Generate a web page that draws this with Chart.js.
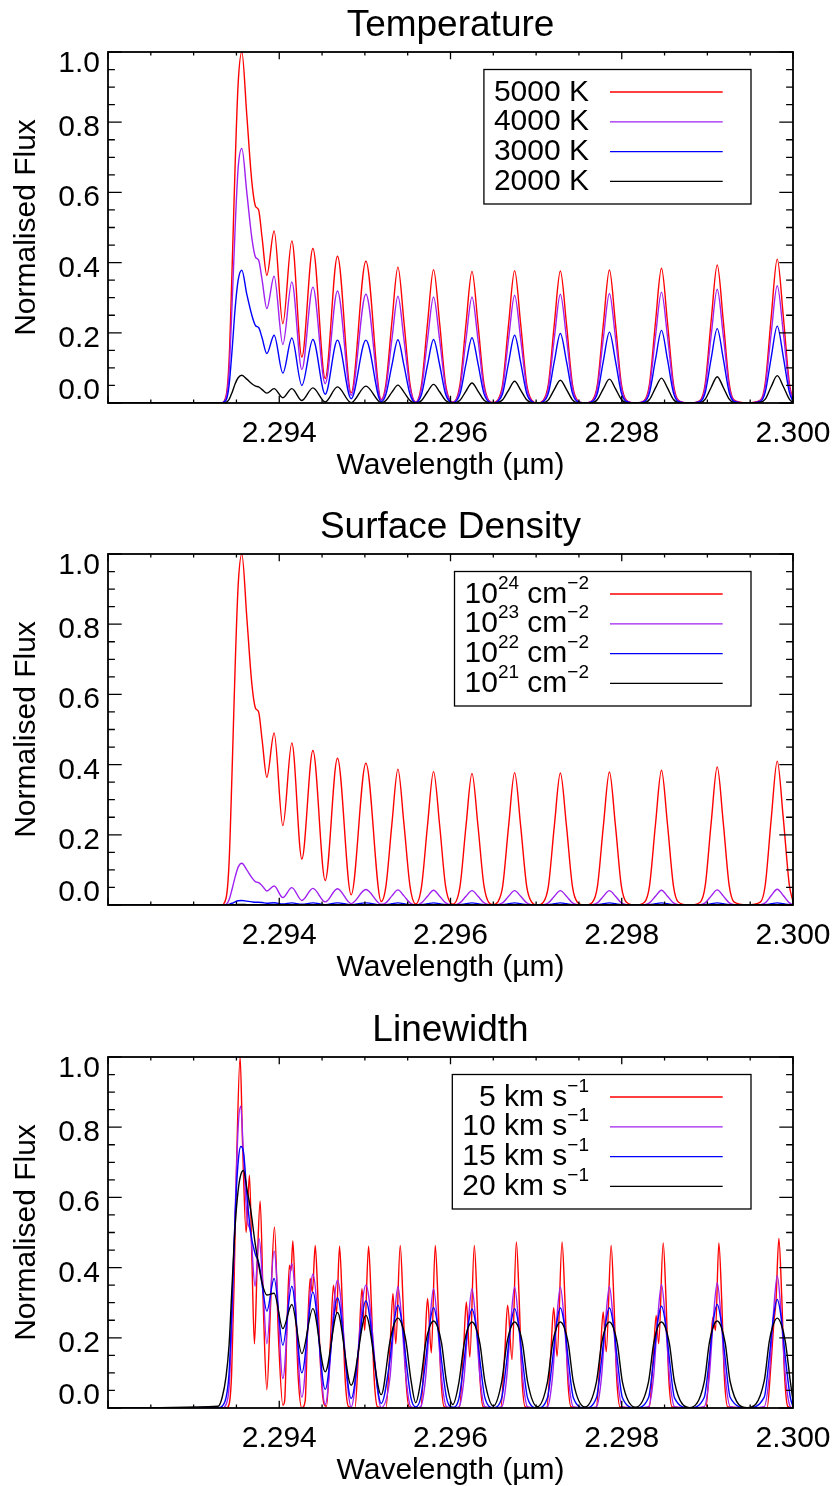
<!DOCTYPE html>
<html>
<head>
<meta charset="utf-8">
<title>CO bandhead models</title>
<script src="https://cdn.jsdelivr.net/npm/chart.js@4.4.1/dist/chart.umd.min.js"></script>
<style>
  html, body { margin: 0; padding: 0; background: #ffffff; }
  #wrap { position: relative; width: 835px; height: 1486px; overflow: hidden; background: #fff; }
  canvas { position: absolute; left: 0; }
</style>
</head>
<body>
<div id="wrap">
  <canvas id="c1" width="835" height="481" style="top:0px"></canvas>
  <canvas id="c2" width="835" height="481" style="top:502px"></canvas>
  <canvas id="c3" width="835" height="481" style="top:1005px"></canvas>
</div>
<script>
// ---------------- DATA ----------------
const panelTitles = ['Temperature', 'Surface Density', 'Linewidth'];
const xAxisTitle = 'Wavelength (\u00b5m)';
const yAxisTitle = 'Normalised Flux';
const xTickValues = [2.294, 2.296, 2.298, 2.300];
const xTickLabels = ['2.294', '2.296', '2.298', '2.300'];
const yTickValues = [0.0, 0.2, 0.4, 0.6, 0.8, 1.0];
const yTickLabels = ['0.0', '0.2', '0.4', '0.6', '0.8', '1.0'];

const legend_T = ['5000 K', '4000 K', '3000 K', '2000 K'];
const legend_N = ['10^{24} cm^{\u22122}', '10^{23} cm^{\u22122}', '10^{22} cm^{\u22122}', '10^{21} cm^{\u22122}'];
const legend_V = ['5 km s^{\u22121}', '10 km s^{\u22121}', '15 km s^{\u22121}', '20 km s^{\u22121}'];
const seriesColors = ['#ff0000', '#a020f0', '#0000ff', '#000000'];

// Wavelength samples (um) for panels 1 and 2
const wave_T = [
 2.292000, 2.293321, 2.293379, 2.293414, 2.293449, 2.293485, 2.293520, 2.293563, 2.293621, 2.293680,
 2.293724, 2.293759, 2.293800, 2.293855, 2.293940, 2.294042, 2.294147, 2.294264, 2.294393, 2.294537,
 2.294680, 2.294840, 2.295012, 2.295191,
 2.295246, 2.295316, 2.295386, 2.295456, 2.295527, 2.295594,
 2.295662, 2.295732, 2.295802, 2.295873, 2.295943, 2.296027,
 2.296111, 2.296181, 2.296251, 2.296321, 2.296392, 2.296500,
 2.296551, 2.296609, 2.296679, 2.296749, 2.296819, 2.296890, 2.296948, 2.297015,
 2.297085, 2.297143, 2.297213, 2.297283, 2.297354, 2.297424, 2.297482, 2.297570,
 2.297658, 2.297716, 2.297786, 2.297856, 2.297926, 2.297996, 2.298055, 2.298160,
 2.298265, 2.298324, 2.298394, 2.298464, 2.298534, 2.298604, 2.298663, 2.298791,
 2.298916, 2.298975, 2.299045, 2.299115, 2.299185, 2.299255, 2.299314, 2.299466,
 2.299618, 2.299676, 2.299746, 2.299816, 2.299887, 2.299957, 2.300000];

const flux_T5000 = [
 0, 0, 0.02, 0.12, 0.38, 0.68, 0.91, 1.0, 0.82, 0.63,
 0.56, 0.55, 0.47, 0.364, 0.49, 0.226, 0.462, 0.131, 0.44, 0.07,
 0.418, 0.029, 0.404, 0.01,
 0.054, 0.232, 0.387, 0.232, 0.054, 0.003,
 0.053, 0.228, 0.38, 0.228, 0.053, 0.002,
 0.053, 0.225, 0.375, 0.225, 0.053, 0.001,
 0.008, 0.053, 0.226, 0.377, 0.226, 0.053, 0.008, 0,
 0.008, 0.053, 0.226, 0.376, 0.226, 0.053, 0.008, 0,
 0.008, 0.053, 0.227, 0.379, 0.227, 0.053, 0.008, 0,
 0.008, 0.054, 0.23, 0.384, 0.23, 0.054, 0.008, 0,
 0.008, 0.055, 0.236, 0.393, 0.236, 0.055, 0.008, 0,
 0.008, 0.057, 0.246, 0.41, 0.246, 0.057, 0.01];

const flux_T4000 = [
 0, 0, 0.015, 0.09, 0.28, 0.5, 0.67, 0.725, 0.6, 0.47,
 0.415, 0.407, 0.35, 0.269, 0.361, 0.167, 0.345, 0.095, 0.33, 0.055,
 0.319, 0.022, 0.31, 0.008,
 0.043, 0.182, 0.304, 0.182, 0.043, 0.002,
 0.042, 0.181, 0.302, 0.181, 0.042, 0.001,
 0.042, 0.181, 0.302, 0.181, 0.042, 0.001,
 0.006, 0.043, 0.184, 0.307, 0.184, 0.043, 0.006, 0,
 0.006, 0.043, 0.186, 0.31, 0.186, 0.043, 0.006, 0,
 0.006, 0.044, 0.187, 0.312, 0.187, 0.044, 0.006, 0,
 0.006, 0.044, 0.19, 0.316, 0.19, 0.044, 0.006, 0,
 0.006, 0.045, 0.194, 0.324, 0.194, 0.045, 0.006, 0,
 0.007, 0.047, 0.2, 0.334, 0.2, 0.047, 0.007];

const flux_T3000 = [
 0, 0, 0.008, 0.05, 0.15, 0.27, 0.35, 0.378, 0.31, 0.25,
 0.22, 0.215, 0.185, 0.141, 0.193, 0.085, 0.185, 0.05, 0.181, 0.025,
 0.179, 0.012, 0.179, 0.004,
 0.025, 0.108, 0.18, 0.108, 0.025, 0.001,
 0.025, 0.109, 0.181, 0.109, 0.025, 0.001,
 0.026, 0.112, 0.186, 0.112, 0.026, 0,
 0.004, 0.027, 0.116, 0.193, 0.116, 0.027, 0.004, 0,
 0.004, 0.028, 0.119, 0.198, 0.119, 0.028, 0.004, 0,
 0.004, 0.028, 0.121, 0.202, 0.121, 0.028, 0.004, 0,
 0.004, 0.029, 0.124, 0.207, 0.124, 0.029, 0.004, 0,
 0.004, 0.03, 0.127, 0.212, 0.127, 0.03, 0.004, 0,
 0.004, 0.031, 0.131, 0.219, 0.131, 0.031, 0.004];

const flux_T2000 = [
 0, 0, 0.002, 0.01, 0.03, 0.055, 0.072, 0.079, 0.068, 0.055,
 0.048, 0.046, 0.038, 0.028, 0.041, 0.015, 0.041, 0.007, 0.043, 0.003,
 0.046, 0.001, 0.048, 0.001,
 0.007, 0.031, 0.051, 0.031, 0.007, 0,
 0.007, 0.032, 0.053, 0.032, 0.007, 0,
 0.008, 0.034, 0.057, 0.034, 0.008, 0,
 0.001, 0.009, 0.037, 0.062, 0.037, 0.009, 0.001, 0,
 0.001, 0.009, 0.039, 0.065, 0.039, 0.009, 0.001, 0,
 0.001, 0.01, 0.041, 0.068, 0.041, 0.01, 0.001, 0,
 0.001, 0.01, 0.043, 0.071, 0.043, 0.01, 0.001, 0,
 0.001, 0.011, 0.045, 0.075, 0.045, 0.011, 0.001, 0,
 0.002, 0.011, 0.047, 0.078, 0.047, 0.011, 0.001];

// Surface density panel (same wavelength samples); the 1e24 curve matches the 5000 K curve
const flux_N24 = [
 0, 0, 0.02, 0.12, 0.38, 0.68, 0.91, 1.0, 0.82, 0.63,
 0.56, 0.55, 0.47, 0.364, 0.49, 0.226, 0.462, 0.131, 0.44, 0.07,
 0.418, 0.029, 0.404, 0.01,
 0.054, 0.232, 0.387, 0.232, 0.054, 0.003,
 0.053, 0.228, 0.38, 0.228, 0.053, 0.002,
 0.053, 0.225, 0.375, 0.225, 0.053, 0.001,
 0.008, 0.053, 0.226, 0.377, 0.226, 0.053, 0.008, 0,
 0.008, 0.053, 0.226, 0.376, 0.226, 0.053, 0.008, 0,
 0.008, 0.053, 0.227, 0.379, 0.227, 0.053, 0.008, 0,
 0.008, 0.054, 0.23, 0.384, 0.23, 0.054, 0.008, 0,
 0.008, 0.055, 0.236, 0.393, 0.236, 0.055, 0.008, 0,
 0.008, 0.057, 0.246, 0.41, 0.246, 0.057, 0.01];

const flux_N23 = [
 0, 0, 0.002, 0.015, 0.045, 0.08, 0.108, 0.119, 0.1, 0.078,
 0.066, 0.064, 0.055, 0.04, 0.054, 0.021, 0.0495, 0.013, 0.0475, 0.009,
 0.0465, 0.004, 0.044, 0.002,
 0.006, 0.026, 0.043, 0.026, 0.006, 0,
 0.006, 0.025, 0.042, 0.025, 0.006, 0,
 0.006, 0.025, 0.041, 0.025, 0.006, 0,
 0.001, 0.006, 0.025, 0.041, 0.025, 0.006, 0.001, 0,
 0.001, 0.006, 0.025, 0.041, 0.025, 0.006, 0.001, 0,
 0.001, 0.006, 0.025, 0.041, 0.025, 0.006, 0.001, 0,
 0.001, 0.006, 0.025, 0.042, 0.025, 0.006, 0.001, 0,
 0.001, 0.006, 0.026, 0.043, 0.026, 0.006, 0.001, 0,
 0.001, 0.006, 0.027, 0.045, 0.027, 0.006, 0.001];

const flux_N22 = [
 0, 0, 0, 0.002, 0.005, 0.009, 0.012, 0.013, 0.011, 0.009,
 0.008, 0.008, 0.007, 0.005, 0.0065, 0.003, 0.006, 0.002, 0.006, 0.001,
 0.006, 0.001, 0.006, 0,
 0.001, 0.0036, 0.006, 0.0036, 0.001, 0,
 0.001, 0.0036, 0.006, 0.0036, 0.001, 0,
 0.001, 0.0036, 0.006, 0.0036, 0.001, 0,
 0, 0.001, 0.0036, 0.006, 0.0036, 0.001, 0, 0,
 0, 0.001, 0.0036, 0.006, 0.0036, 0.001, 0, 0,
 0, 0.001, 0.0036, 0.006, 0.0036, 0.001, 0, 0,
 0, 0.001, 0.0036, 0.006, 0.0036, 0.001, 0, 0,
 0, 0.001, 0.0036, 0.006, 0.0036, 0.001, 0, 0,
 0, 0.001, 0.0036, 0.006, 0.0036, 0.001, 0];

const flux_N21 = [
 0, 0, 0, 0, 0.0005, 0.001, 0.0013, 0.0014, 0.0012, 0.001,
 0.0009, 0.0009, 0.0008, 0.0006, 0.0007, 0.0003, 0.0007, 0.0002, 0.0007, 0.0001,
 0.0007, 0, 0.0007, 0,
 0.0001, 0.0004, 0.0007, 0.0004, 0.0001, 0,
 0.0001, 0.0004, 0.0007, 0.0004, 0.0001, 0,
 0.0001, 0.0004, 0.0007, 0.0004, 0.0001, 0,
 0, 0.0001, 0.0004, 0.0007, 0.0004, 0.0001, 0, 0,
 0, 0.0001, 0.0004, 0.0007, 0.0004, 0.0001, 0, 0,
 0, 0.0001, 0.0004, 0.0007, 0.0004, 0.0001, 0, 0,
 0, 0.0001, 0.0004, 0.0007, 0.0004, 0.0001, 0, 0,
 0, 0.0001, 0.0004, 0.0007, 0.0004, 0.0001, 0, 0,
 0, 0.0001, 0.0004, 0.0007, 0.0004, 0.0001, 0];

// Linewidth panel: 5 km/s curve (resolved doublets) has its own samples
const wave_V5 = [
 2.292000, 2.293379, 2.293414, 2.293444, 2.293473, 2.293502, 2.293543, 2.293572, 2.293613, 2.293652,
 2.293681, 2.293710, 2.293744, 2.293777, 2.293815, 2.293855, 2.293900, 2.293944, 2.293991, 2.294042,
 2.294063, 2.294092, 2.294119, 2.294137, 2.294159, 2.294189, 2.294221, 2.294264,
 2.294303, 2.294332, 2.294361, 2.294387, 2.294420, 2.294449, 2.294482, 2.294525,
 2.294552, 2.294598, 2.294633, 2.294669, 2.294704, 2.294736, 2.294768, 2.294809,
 2.294884, 2.294930, 2.294966, 2.294998, 2.295043, 2.295075, 2.295107, 2.295148,
 2.295246, 2.295293, 2.295328, 2.295361, 2.295413, 2.295446, 2.295478, 2.295518,
 2.295651, 2.295697, 2.295732, 2.295776, 2.295822, 2.295855, 2.295887, 2.295928,
 2.296103, 2.296150, 2.296185, 2.296226, 2.296278, 2.296311, 2.296343, 2.296383,
 2.296586, 2.296632, 2.296667, 2.296719, 2.296769, 2.296802, 2.296833, 2.296874,
 2.297123, 2.297170, 2.297205, 2.297245, 2.297303, 2.297336, 2.297368, 2.297409,
 2.297701, 2.297747, 2.297783, 2.297819, 2.297876, 2.297909, 2.297940, 2.297981,
 2.298320, 2.298367, 2.298402, 2.298431, 2.298484, 2.298517, 2.298548, 2.298589,
 2.298982, 2.299029, 2.299064, 2.299095, 2.299134, 2.299167, 2.299198, 2.299239,
 2.299697, 2.299744, 2.299779, 2.299800, 2.299835, 2.299868, 2.299900, 2.299940,
 2.300000];

const flux_V5 = [
 0, 0, 0.01, 0.1, 0.36, 0.7, 1.0, 0.75, 0.5, 0.663,
 0.42, 0.183, 0.42, 0.59, 0.28, 0.052, 0.3, 0.516, 0.2, 0.008,
 0.02, 0.25, 0.407, 0.39, 0.476, 0.3, 0.09, 0,
 0.02, 0.23, 0.369, 0.33, 0.463, 0.33, 0.12, 0.01,
 0.005, 0.19, 0.35, 0.27, 0.461, 0.3, 0.09, 0.004,
 0, 0.18, 0.34, 0.221, 0.461, 0.3, 0.09, 0.003,
 0, 0.17, 0.326, 0.183, 0.463, 0.3, 0.09, 0.003,
 0, 0.16, 0.312, 0.157, 0.463, 0.3, 0.09, 0.003,
 0, 0.155, 0.302, 0.145, 0.463, 0.3, 0.09, 0.003,
 0, 0.15, 0.293, 0.138, 0.473, 0.31, 0.09, 0.003,
 0, 0.15, 0.286, 0.147, 0.473, 0.31, 0.09, 0.003,
 0, 0.14, 0.274, 0.16, 0.463, 0.3, 0.09, 0.003,
 0, 0.14, 0.264, 0.183, 0.47, 0.31, 0.09, 0.003,
 0, 0.14, 0.259, 0.221, 0.47, 0.31, 0.09, 0.003,
 0, 0.13, 0.25, 0.3, 0.483, 0.32, 0.1, 0.004,
 0];

// Linewidth panel: shared samples for the 10, 15 and 20 km/s curves
const wave_V = [
 2.292000, 2.293286, 2.293333, 2.293379, 2.293414, 2.293449, 2.293485, 2.293520, 2.293551, 2.293582,
 2.293625, 2.293666, 2.293718, 2.293765, 2.293806, 2.293855, 2.293940, 2.294042, 2.294147, 2.294264,
 2.294393, 2.294537, 2.294680, 2.294840, 2.295012, 2.295191,
 2.295293, 2.295340, 2.295386, 2.295433, 2.295480, 2.295538, 2.295594,
 2.295651, 2.295709, 2.295756, 2.295802, 2.295849, 2.295896, 2.295954, 2.296027,
 2.296099, 2.296158, 2.296205, 2.296251, 2.296298, 2.296345, 2.296403, 2.296500,
 2.296597, 2.296656, 2.296703, 2.296749, 2.296796, 2.296843, 2.296901, 2.297015,
 2.297132, 2.297190, 2.297237, 2.297283, 2.297330, 2.297377, 2.297435, 2.297570,
 2.297704, 2.297763, 2.297809, 2.297856, 2.297903, 2.297950, 2.298008, 2.298160,
 2.298312, 2.298371, 2.298417, 2.298464, 2.298511, 2.298558, 2.298616, 2.298791,
 2.298963, 2.299022, 2.299068, 2.299115, 2.299162, 2.299209, 2.299267, 2.299466,
 2.299664, 2.299723, 2.299770, 2.299816, 2.299863, 2.299910, 2.299968, 2.300000];

const flux_V10 = [
 0, 0, 0, 0.01, 0.06, 0.25, 0.56, 0.8, 0.86, 0.72,
 0.54, 0.5, 0.347, 0.483, 0.36, 0.183, 0.447, 0.084, 0.411, 0.031,
 0.381, 0.01, 0.364, 0.003, 0.35, 0.001,
 0.087, 0.242, 0.346, 0.242, 0.087, 0.003, 0,
 0.003, 0.085, 0.238, 0.34, 0.238, 0.085, 0.003, 0,
 0.003, 0.085, 0.238, 0.34, 0.238, 0.085, 0.003, 0,
 0.003, 0.086, 0.242, 0.345, 0.242, 0.086, 0.003, 0,
 0.003, 0.086, 0.242, 0.345, 0.242, 0.086, 0.003, 0,
 0.003, 0.087, 0.242, 0.346, 0.242, 0.087, 0.003, 0,
 0.004, 0.088, 0.246, 0.352, 0.246, 0.088, 0.004, 0,
 0.004, 0.089, 0.25, 0.357, 0.25, 0.089, 0.004, 0,
 0.004, 0.094, 0.264, 0.377, 0.264, 0.094, 0.004, 0];

const flux_V15 = [
 0, 0, 0.005, 0.03, 0.1, 0.3, 0.55, 0.7, 0.745, 0.73,
 0.6, 0.5, 0.44, 0.41, 0.34, 0.276, 0.369, 0.179, 0.347, 0.1,
 0.33, 0.053, 0.314, 0.027, 0.305, 0.013,
 0.138, 0.243, 0.293, 0.243, 0.138, 0.029, 0.003,
 0.029, 0.134, 0.237, 0.286, 0.237, 0.134, 0.029, 0.002,
 0.028, 0.133, 0.234, 0.282, 0.234, 0.133, 0.028, 0.001,
 0.028, 0.133, 0.235, 0.283, 0.235, 0.133, 0.028, 0,
 0.029, 0.134, 0.237, 0.285, 0.237, 0.134, 0.029, 0,
 0.029, 0.134, 0.237, 0.285, 0.237, 0.134, 0.029, 0,
 0.029, 0.136, 0.241, 0.29, 0.241, 0.136, 0.029, 0,
 0.03, 0.139, 0.245, 0.295, 0.245, 0.139, 0.03, 0,
 0.031, 0.145, 0.256, 0.309, 0.256, 0.145, 0.031, 0.004];

const flux_V20 = [
 0, 0.005, 0.03, 0.09, 0.18, 0.35, 0.52, 0.62, 0.665, 0.677,
 0.62, 0.565, 0.47, 0.4, 0.35, 0.322, 0.327, 0.226, 0.295, 0.155,
 0.283, 0.103, 0.272, 0.065, 0.264, 0.038,
 0.19, 0.238, 0.256, 0.238, 0.19, 0.08, 0.015,
 0.075, 0.184, 0.231, 0.248, 0.231, 0.184, 0.074, 0.01,
 0.074, 0.181, 0.228, 0.245, 0.228, 0.181, 0.074, 0.006,
 0.074, 0.181, 0.228, 0.245, 0.228, 0.181, 0.074, 0.004,
 0.074, 0.181, 0.228, 0.245, 0.228, 0.181, 0.074, 0.003,
 0.074, 0.181, 0.228, 0.245, 0.228, 0.181, 0.074, 0.002,
 0.074, 0.181, 0.228, 0.245, 0.228, 0.181, 0.074, 0.001,
 0.074, 0.184, 0.231, 0.248, 0.231, 0.184, 0.074, 0.001,
 0.077, 0.19, 0.238, 0.256, 0.238, 0.19, 0.077, 0.02];

// Axis ranges
const X_MIN = 2.292, X_MAX = 2.300, X_MINOR = 0.0005, X_MAJOR_EVERY = 4;
const Y_MIN = 0.0, Y_MAX = 1.0, Y_MINOR = 0.05, Y_MAJOR_EVERY = 4;

// ---------------- DRAWING ----------------
const FONT = '"Liberation Sans", Arial, Helvetica, sans-serif';

function parseRich(s) {
  const segs = []; const re = /\^\{([^}]*)\}/g; let last = 0, m;
  while ((m = re.exec(s))) {
    if (m.index > last) segs.push({ t: s.slice(last, m.index), sup: false });
    segs.push({ t: m[1], sup: true });
    last = re.lastIndex;
  }
  if (last < s.length) segs.push({ t: s.slice(last), sup: false });
  return segs;
}

function richWidth(ctx, segs) {
  let w = 0;
  for (const sg of segs) { ctx.font = (sg.sup ? '19px ' : '30px ') + FONT; w += ctx.measureText(sg.t).width; }
  return w;
}
function drawRich(ctx, segs, xRight, baseline) {
  let x = xRight - richWidth(ctx, segs);
  ctx.textAlign = 'left'; ctx.textBaseline = 'alphabetic';
  for (const sg of segs) {
    ctx.font = (sg.sup ? '19px ' : '30px ') + FONT;
    ctx.fillText(sg.t, x, sg.sup ? baseline - 14 : baseline);
    x += ctx.measureText(sg.t).width;
  }
}

const idlFrame = {
  id: 'idlFrame',
  afterDraw(chart, args, o) {
    const { ctx, chartArea: a } = chart;
    const xs = chart.scales.x, ys = chart.scales.y;
    ctx.save();
    ctx.strokeStyle = '#000'; ctx.fillStyle = '#000';

    // ticks (inward, on all four sides)
    ctx.lineWidth = 1.3;
    ctx.beginPath();
    const nx = Math.round((X_MAX - X_MIN) / X_MINOR);
    for (let i = 0; i <= nx; i++) {
      const px = xs.getPixelForValue(X_MIN + i * X_MINOR);
      const len = (i % X_MAJOR_EVERY === 0) ? 7.2 : 3.6;
      ctx.moveTo(px, a.bottom); ctx.lineTo(px, a.bottom - len);
      ctx.moveTo(px, a.top); ctx.lineTo(px, a.top + len);
    }
    const ny = Math.round((Y_MAX - Y_MIN) / Y_MINOR);
    for (let i = 0; i <= ny; i++) {
      const py = ys.getPixelForValue(Y_MIN + i * Y_MINOR);
      const len = (i % Y_MAJOR_EVERY === 0) ? 13.7 : 6.9;
      ctx.moveTo(a.left, py); ctx.lineTo(a.left + len, py);
      ctx.moveTo(a.right, py); ctx.lineTo(a.right - len, py);
    }
    ctx.stroke();

    // frame
    ctx.lineWidth = 1.8;
    ctx.strokeRect(a.left, a.top, a.right - a.left, a.bottom - a.top);

    // tick labels
    ctx.font = '30px ' + FONT;
    ctx.textBaseline = 'alphabetic';
    ctx.textAlign = 'center';
    xTickValues.forEach((v, i) => {
      ctx.fillText(xTickLabels[i], xs.getPixelForValue(v), a.bottom + 39);
    });
    ctx.textAlign = 'right';
    yTickValues.forEach((v, i) => {
      const py = ys.getPixelForValue(v);
      const base = Math.min(Math.max(py + 14, a.top + 20), a.bottom - 4);
      ctx.fillText(yTickLabels[i], a.left - 8, base);
    });

    // axis titles
    ctx.textAlign = 'center';
    ctx.fillText(xAxisTitle, (a.left + a.right) / 2, a.bottom + 70.5);
    ctx.save();
    ctx.translate(35, (a.top + a.bottom) / 2);
    ctx.rotate(-Math.PI / 2);
    ctx.fillText(yAxisTitle, 0, 0);
    ctx.restore();

    // panel title
    ctx.font = '37px ' + FONT;
    ctx.fillText(o.title, (a.left + a.right) / 2, 36);

    // legend
    const rows = o.legend.map(parseRich);
    const textRight = 589;
    let maxW = 0;
    rows.forEach(r => { maxW = Math.max(maxW, richWidth(ctx, r)); });
    const boxL = textRight - maxW - 10, boxR = 751, boxT = a.top + 17.5, boxB = a.top + 152;
    ctx.fillStyle = '#fff';
    ctx.fillRect(boxL, boxT, boxR - boxL, boxB - boxT);
    ctx.lineWidth = 1.3; ctx.strokeStyle = '#000';
    ctx.strokeRect(boxL, boxT, boxR - boxL, boxB - boxT);
    rows.forEach((r, i) => {
      const ly = a.top + 40 + i * 29.8;
      ctx.fillStyle = '#000';
      drawRich(ctx, r, textRight, ly + 8.5);
      ctx.strokeStyle = seriesColors[i]; ctx.lineWidth = 1.3;
      ctx.beginPath(); ctx.moveTo(610, ly); ctx.lineTo(722.7, ly); ctx.stroke();
    });
    ctx.restore();
  }
};

function makePanel(canvasId, title, legend, series) {
  const datasets = series.map((s, k) => ({
    label: legend[k].replace(/\^\{([^}]*)\}/g, '$1'),
    data: s.wave.map((w, i) => ({ x: w, y: s.flux[i] })),
    borderColor: seriesColors[k],
    borderWidth: 1.4,
    pointRadius: 0,
    fill: false,
    cubicInterpolationMode: 'monotone',
    order: series.length - k
  }));
  return new Chart(document.getElementById(canvasId), {
    type: 'line',
    data: { datasets },
    options: {
      responsive: false,
      animation: false,
      devicePixelRatio: 1,
      events: [],
      layout: { padding: { left: 108, right: 42, top: 52, bottom: 78 } },
      scales: {
        x: { type: 'linear', min: X_MIN, max: X_MAX, display: false },
        y: { type: 'linear', min: Y_MIN, max: Y_MAX, display: false }
      },
      plugins: {
        legend: { display: false },
        tooltip: { enabled: false },
        title: { display: false },
        idlFrame: { title, legend }
      }
    },
    plugins: [idlFrame]
  });
}

makePanel('c1', panelTitles[0], legend_T, [
  { wave: wave_T, flux: flux_T5000 },
  { wave: wave_T, flux: flux_T4000 },
  { wave: wave_T, flux: flux_T3000 },
  { wave: wave_T, flux: flux_T2000 }
]);
makePanel('c2', panelTitles[1], legend_N, [
  { wave: wave_T, flux: flux_N24 },
  { wave: wave_T, flux: flux_N23 },
  { wave: wave_T, flux: flux_N22 },
  { wave: wave_T, flux: flux_N21 }
]);
makePanel('c3', panelTitles[2], legend_V, [
  { wave: wave_V5, flux: flux_V5 },
  { wave: wave_V, flux: flux_V10 },
  { wave: wave_V, flux: flux_V15 },
  { wave: wave_V, flux: flux_V20 }
]);
</script>
</body>
</html>
